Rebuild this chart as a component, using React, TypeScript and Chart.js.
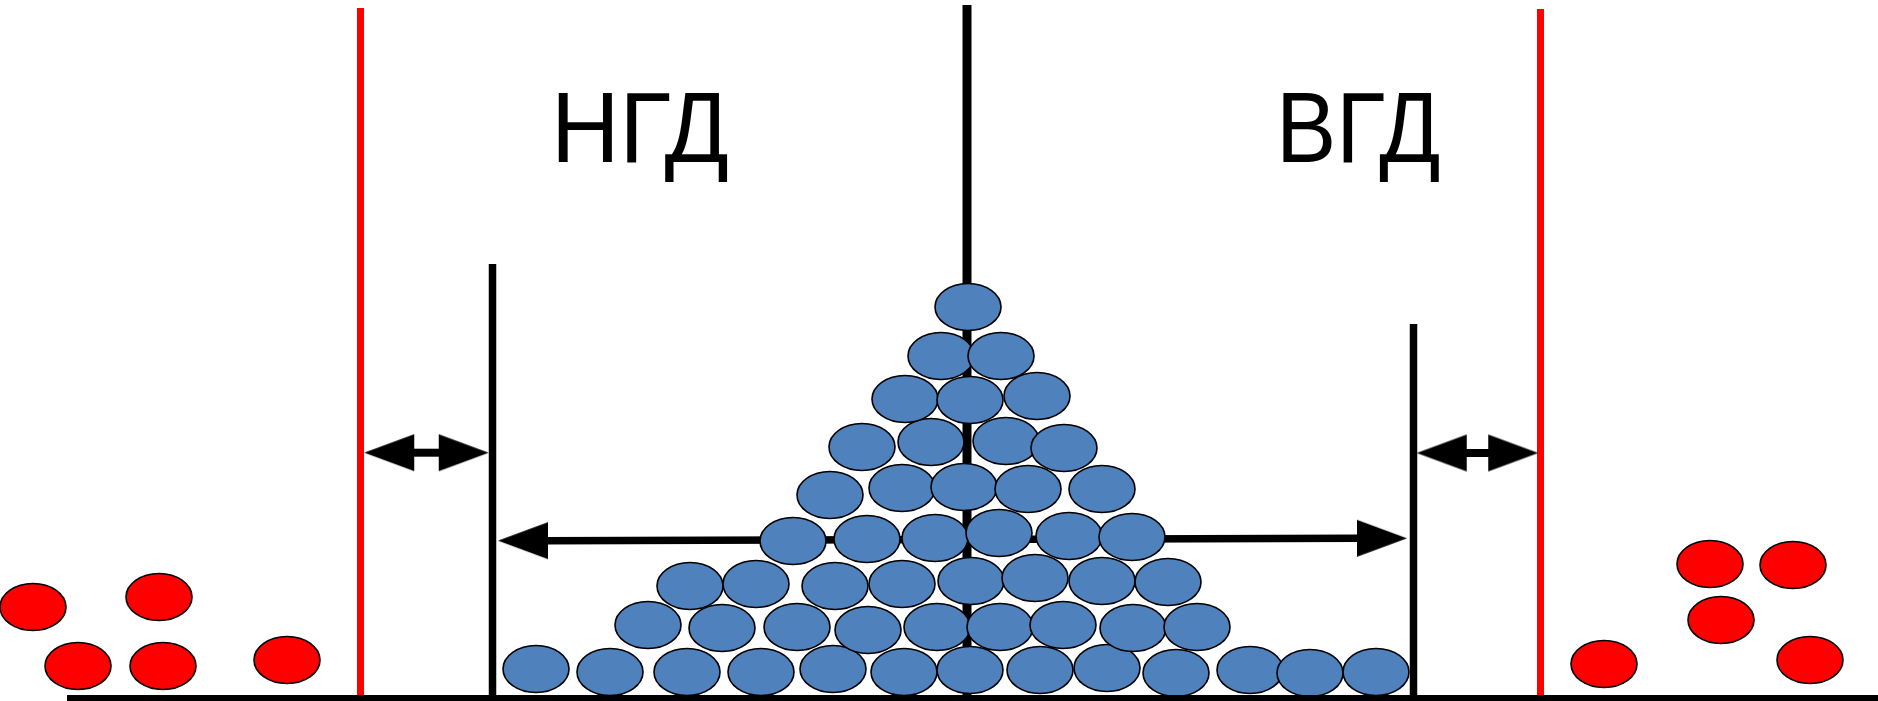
import React, { useEffect, useRef } from 'react';
import { Chart, registerables } from 'chart.js';

Chart.register(...registerables);

// ---- data (units of the drawing: horizontal measure, vertical position from top) ----
// parts within tolerance (blue), stacked row by row from the bottom
const blueX = [
  536, 610, 687, 761, 833, 904, 970, 1040, 1107, 1176, 1250, 1310, 1376,
  648, 722, 797, 868, 937, 1000, 1063, 1133, 1197,
  690, 756, 835, 902, 971, 1035, 1102, 1168,
  793, 867, 935, 999, 1069, 1132,
  830, 902, 964, 1028, 1102,
  862, 931, 1006, 1064,
  905, 970, 1037,
  941, 1001,
  968,
];
const blueY = [
  669, 672, 672, 672, 669, 672, 670, 670, 668, 673, 670, 673, 672,
  625, 628, 627, 630, 627, 627, 625, 628, 627,
  586, 584, 586, 584, 581, 578, 581, 582,
  541, 539, 538, 533, 536, 537,
  495, 488, 487, 489, 489,
  447, 442, 441, 448,
  399, 400, 396,
  356, 356,
  307,
];
// rejected parts (red), outside the limits
const redX = [33, 159, 78, 163, 287, 1710, 1793, 1721, 1604, 1810];
const redY = [607, 597, 666, 666, 660, 564, 565, 620, 664, 660];

// red limit lines
const limitX = [360.5, 1540.5];
const limitTop = [8, 9];
const limitBottom = 695;
// black tolerance lines (НГД / ВГД)
const tolX = [492.5, 1413.5];
const tolTop = [264, 324];
// nominal centre line
const centerX = 967;
const centerTop = 5;
// base line
const baseY = 698;
const baseStartX = 67;
const baseEndX = 1878;
// long tolerance span arrow (tips)
const spanTipX = [498, 1407];
const spanTipY = [540.7, 538.3];
// small gap arrows (tips): left pair, right pair
const gapTipX = [364.3, 488.7, 1416.8, 1538.2];
const gapTipY = [452.7, 452.7, 453, 453];
// labels
const labelText = ['НГД', 'ВГД'];
const labelX = [551, 1276];
const labelBaseline = 162;
const labelSqueeze = [0.94, 0.895];

const W = 1878;
const H = 701;
const HEAD_LEN = 50;
const HEAD_HALF = 18.5;

function ellipseImage(fill: string) {
  const c = document.createElement('canvas');
  c.width = 72;
  c.height = 52;
  const g = c.getContext('2d')!;
  g.beginPath();
  g.ellipse(36, 26, 33, 23.5, 0, 0, Math.PI * 2);
  g.fillStyle = fill;
  g.fill();
  g.lineWidth = 1.6;
  g.strokeStyle = '#000';
  g.stroke();
  return c;
}

function headImage() {
  // right-pointing triangle with its tip in the centre of the canvas
  const c = document.createElement('canvas');
  c.width = HEAD_LEN * 2 + 4;
  c.height = Math.ceil(HEAD_HALF * 2 + 4);
  const g = c.getContext('2d')!;
  const cx = c.width / 2;
  const cy = c.height / 2;
  g.beginPath();
  g.moveTo(cx, cy);
  g.lineTo(cx - HEAD_LEN, cy - HEAD_HALF);
  g.lineTo(cx - HEAD_LEN, cy + HEAD_HALF);
  g.closePath();
  g.fillStyle = '#000';
  g.fill();
  return c;
}

function seg(x1: number, y1: number, x2: number, y2: number, color: string, width: number, order: number) {
  return {
    type: 'line' as const,
    data: [
      { x: x1, y: y1 },
      { x: x2, y: y2 },
    ],
    borderColor: color,
    backgroundColor: color,
    borderWidth: width,
    borderCapStyle: 'butt' as const,
    pointRadius: 0,
    fill: false,
    tension: 0,
    order,
  };
}

const labelPlugin = {
  id: 'tolLabels',
  afterDatasetsDraw(chart: any) {
    const { ctx, scales } = chart;
    labelText.forEach((t, i) => {
      ctx.save();
      ctx.translate(scales.x.getPixelForValue(labelX[i]), scales.y.getPixelForValue(labelBaseline));
      ctx.scale(labelSqueeze[i], 1);
      ctx.font = '101px "Liberation Sans", Arial, sans-serif';
      ctx.fillStyle = '#000';
      ctx.textAlign = 'left';
      ctx.textBaseline = 'alphabetic';
      ctx.fillText(t, 0, 0);
      ctx.restore();
    });
  },
};

export default function App() {
  const ref = useRef<HTMLCanvasElement | null>(null);

  useEffect(() => {
    document.body.style.margin = '0';
    const blueImg = ellipseImage('#4F81BD');
    const redImg = ellipseImage('#FF0000');
    const head = headImage();

    const datasets: any[] = [];

    // parts
    datasets.push({
      type: 'scatter',
      data: blueX.map((x, i) => ({ x, y: blueY[i] })),
      pointStyle: blueImg,
      pointRadius: 3,
      order: 1,
    });
    datasets.push({
      type: 'scatter',
      data: redX.map((x, i) => ({ x, y: redY[i] })),
      pointStyle: redImg,
      pointRadius: 3,
      order: 1,
    });

    // arrow heads
    const tipsX = [...spanTipX, ...gapTipX];
    const tipsY = [...spanTipY, ...gapTipY];
    const rot = [180, 0, 180, 0, 180, 0];
    datasets.push({
      type: 'scatter',
      data: tipsX.map((x, i) => ({ x, y: tipsY[i] })),
      pointStyle: head,
      pointRadius: 3,
      pointRotation: rot,
      order: 2,
    });

    // arrow shafts
    datasets.push(seg(spanTipX[0] + HEAD_LEN - 2, spanTipY[0], spanTipX[1] - HEAD_LEN + 2, spanTipY[1], '#000', 7.5, 5));
    for (let k = 0; k < gapTipX.length; k += 2) {
      datasets.push(seg(gapTipX[k] + HEAD_LEN - 2, gapTipY[k], gapTipX[k + 1] - HEAD_LEN + 2, gapTipY[k + 1], '#000', 8, 3));
    }

    // vertical lines
    limitX.forEach((x, i) => datasets.push(seg(x, limitTop[i], x, limitBottom, '#FF0000', 7, 4)));
    tolX.forEach((x, i) => datasets.push(seg(x, tolTop[i], x, baseY, '#000', 7.5, 4)));
    datasets.push(seg(centerX, centerTop, centerX, baseY, '#000', 9, 6));
    datasets.push(seg(baseStartX, baseY, baseEndX, baseY, '#000', 6, 0));

    const chart = new Chart(ref.current!, {
      type: 'scatter',
      data: { datasets },
      options: {
        animation: false,
        responsive: false,
        maintainAspectRatio: false,
        events: [],
        layout: { padding: 0, autoPadding: false },
        plugins: { legend: { display: false }, tooltip: { enabled: false } },
        scales: {
          x: { type: 'linear', min: 0, max: W, display: false },
          y: { type: 'linear', min: 0, max: H, reverse: true, display: false },
        },
      },
      plugins: [labelPlugin],
    });
    return () => chart.destroy();
  }, []);

  return (
    <div style={{ width: W, height: H, background: '#fff' }}>
      <canvas ref={ref} width={W} height={H} style={{ display: 'block', width: W, height: H }} />
    </div>
  );
}
